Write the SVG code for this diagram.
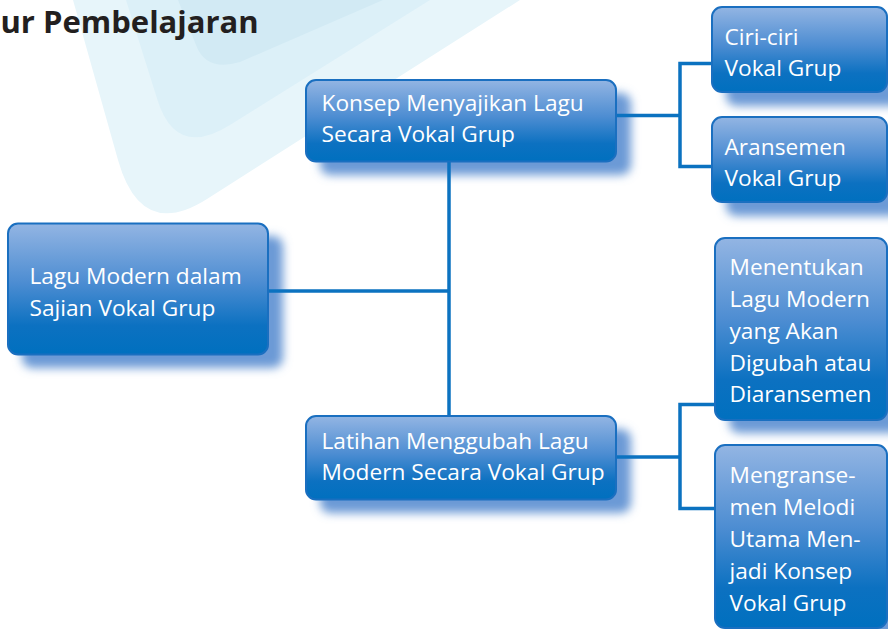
<svg xmlns="http://www.w3.org/2000/svg" width="888" height="629" viewBox="0 0 888 629">
  <defs>
    <linearGradient id="boxGrad" x1="0" y1="0" x2="0" y2="1">
      <stop offset="0" stop-color="#93b5e3"/>
      <stop offset="0.45" stop-color="#4d8dd2"/>
      <stop offset="0.78" stop-color="#0c71c1"/>
      <stop offset="1" stop-color="#0070bf"/>
    </linearGradient>
    <filter id="shadowBlur" x="-20%" y="-20%" width="140%" height="140%">
      <feGaussianBlur stdDeviation="5"/>
    </filter>
    <style>
      .box { fill: url(#boxGrad); stroke: #1a6fc0; stroke-width: 2; }
      .shadow { fill: #6c9ad6; filter: url(#shadowBlur); }
      .label { font-family: "Open Sans", "Noto Sans", "Liberation Sans", sans-serif; font-size: 22.7px; fill: #ffffff; }
      .conn { fill: none; stroke: #0b72c0; stroke-width: 3.5; }
      .title { font-family: "Open Sans", "Noto Sans", "Liberation Sans", sans-serif; font-weight: bold; font-size: 31px; fill: #231f20; }
    </style>
  </defs>

  <g id="background">
    <path d="M 73,0 L 118,160 Q 141,241 207,199 L 520,0 Z" fill="#e7f5fa"/>
    <path d="M 126,0 L 157.5,100 Q 176,158.7 230,125 L 430,0 Z" fill="#dcf0f8"/>
    <path d="M 178,0 L 196,45 Q 206,72 240,62 L 383,0 Z" fill="#d2eaf4"/>
  </g>

  <g id="title">
    <text class="title" x="0.5" y="33">ur Pembelajaran</text>
  </g>

  <g id="shadows">
    <rect class="shadow" x="22" y="236" width="261" height="132" rx="10"/>
    <rect class="shadow" x="320" y="93" width="311" height="82" rx="10"/>
    <rect class="shadow" x="320" y="429" width="311" height="84" rx="10"/>
    <rect class="shadow" x="726" y="20" width="176" height="86" rx="10"/>
    <rect class="shadow" x="726" y="130" width="176" height="86" rx="10"/>
    <rect class="shadow" x="729" y="251" width="173" height="182" rx="10"/>
    <rect class="shadow" x="729" y="459" width="173" height="183" rx="10"/>
  </g>

  <g id="connectors">
    <path class="conn" d="M 268,291 H 449"/>
    <path class="conn" d="M 449,161 V 417"/>
    <path class="conn" d="M 616,115.5 H 680"/>
    <path class="conn" d="M 711,63.5 H 680 V 166.5 H 711"/>
    <path class="conn" d="M 616,457 H 680"/>
    <path class="conn" d="M 714,404.5 H 680 V 508.5 H 714"/>
  </g>

  <g id="node-lagu-modern">
    <rect class="box" x="8" y="223.5" width="260" height="131" rx="10"/>
    <text class="label" x="29.5" y="284">Lagu Modern dalam</text>
    <text class="label" x="29.5" y="316">Sajian Vokal Grup</text>
  </g>

  <g id="node-konsep">
    <rect class="box" x="306" y="80" width="310" height="81.5" rx="10"/>
    <text class="label" x="321.5" y="111">Konsep Menyajikan Lagu</text>
    <text class="label" x="321.5" y="142">Secara Vokal Grup</text>
  </g>

  <g id="node-latihan">
    <rect class="box" x="306" y="416" width="310" height="83.5" rx="10"/>
    <text class="label" x="321.5" y="449">Latihan Menggubah Lagu</text>
    <text class="label" x="321.5" y="480">Modern Secara Vokal Grup</text>
  </g>

  <g id="node-ciri">
    <rect class="box" x="712" y="7" width="175" height="85" rx="10"/>
    <text class="label" x="724.5" y="45">Ciri-ciri</text>
    <text class="label" x="724.5" y="76">Vokal Grup</text>
  </g>

  <g id="node-aransemen">
    <rect class="box" x="712" y="117" width="175" height="85" rx="10"/>
    <text class="label" x="724.5" y="155">Aransemen</text>
    <text class="label" x="724.5" y="186">Vokal Grup</text>
  </g>

  <g id="node-menentukan">
    <rect class="box" x="715" y="238" width="172" height="182" rx="10"/>
    <text class="label" x="729.5" y="275">Menentukan</text>
    <text class="label" x="729.5" y="307">Lagu Modern</text>
    <text class="label" x="729.5" y="339">yang Akan</text>
    <text class="label" x="729.5" y="370.5">Digubah atau</text>
    <text class="label" x="729.5" y="402">Diaransemen</text>
  </g>

  <g id="node-mengransemen">
    <rect class="box" x="715" y="445" width="172" height="183" rx="10"/>
    <text class="label" x="729.5" y="483">Mengranse-</text>
    <text class="label" x="729.5" y="515">men Melodi</text>
    <text class="label" x="729.5" y="547">Utama Men-</text>
    <text class="label" x="729.5" y="579">jadi Konsep</text>
    <text class="label" x="729.5" y="611">Vokal Grup</text>
  </g>
</svg>
